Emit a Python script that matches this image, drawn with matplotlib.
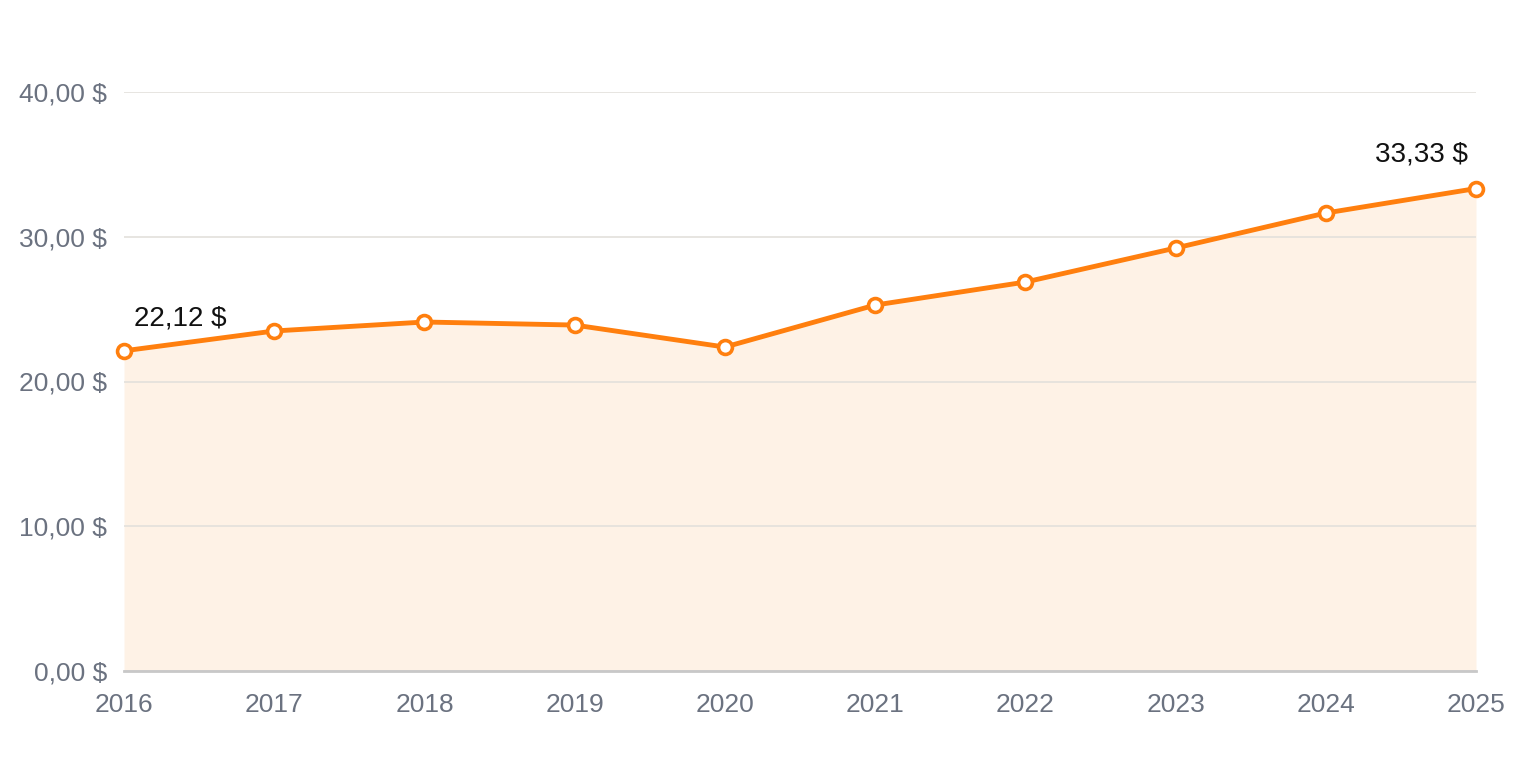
import matplotlib
matplotlib.use('Agg')
from matplotlib import pyplot as plt

years = [2016, 2017, 2018, 2019, 2020, 2021, 2022, 2023, 2024, 2025]
values = [22.12, 23.49, 24.11, 23.90, 22.38, 25.28, 26.87, 29.22, 31.64, 33.33]
yticks = [0, 10, 20, 30, 40]

plt.rcParams['font.family'] = ['Liberation Sans', 'DejaVu Sans']

line_col = '#ff7f0e'
fill_col = '#fef2e6'
tick_col = '#6b7280'


def money(v):
    return ('%.2f $' % v).replace('.', ',')


fig = plt.figure(figsize=(15.2, 7.6), dpi=100)
ax = fig.add_axes([124/1520, 89/760, (1476-124)/1520, (671-92)/760])

ax.fill_between(years, values, 0, color=fill_col, zorder=1, linewidth=0)
ax.plot(years, values, color=line_col, linewidth=3.5, zorder=3,
        marker='o', markersize=10, markerfacecolor='white',
        markeredgecolor=line_col, markeredgewidth=2.6, clip_on=False)

ax.set_xlim(years[0], years[-1])
ax.set_ylim(0, 40)
ax.set_yticks(yticks)
ax.yaxis.set_major_formatter(matplotlib.ticker.FuncFormatter(lambda v, p: money(v)))
ax.set_xticks(years)
ax.set_xticklabels([str(y) for y in years])

ax.grid(axis='y', color='#e3e0dc', linewidth=1.2, zorder=2)
for s in ['top', 'right', 'left']:
    ax.spines[s].set_visible(False)
ax.spines['bottom'].set_color('#c8c8c8')
ax.spines['bottom'].set_linewidth(2)
ax.spines['bottom'].set_zorder(2)
ax.tick_params(axis='both', length=0, labelsize=19, labelcolor=tick_col)
ax.tick_params(axis='y', pad=12)
ax.tick_params(axis='x', pad=16)

ax.annotate(money(values[0]), (years[0], values[0]), xytext=(7, 14), textcoords='offset points',
            ha='left', va='bottom', fontsize=20, color='#111111')
ax.annotate(money(values[-1]), (years[-1], values[-1]), xytext=(-6, 15), textcoords='offset points',
            ha='right', va='bottom', fontsize=20, color='#111111')

fig.savefig('out.png', dpi=100)
